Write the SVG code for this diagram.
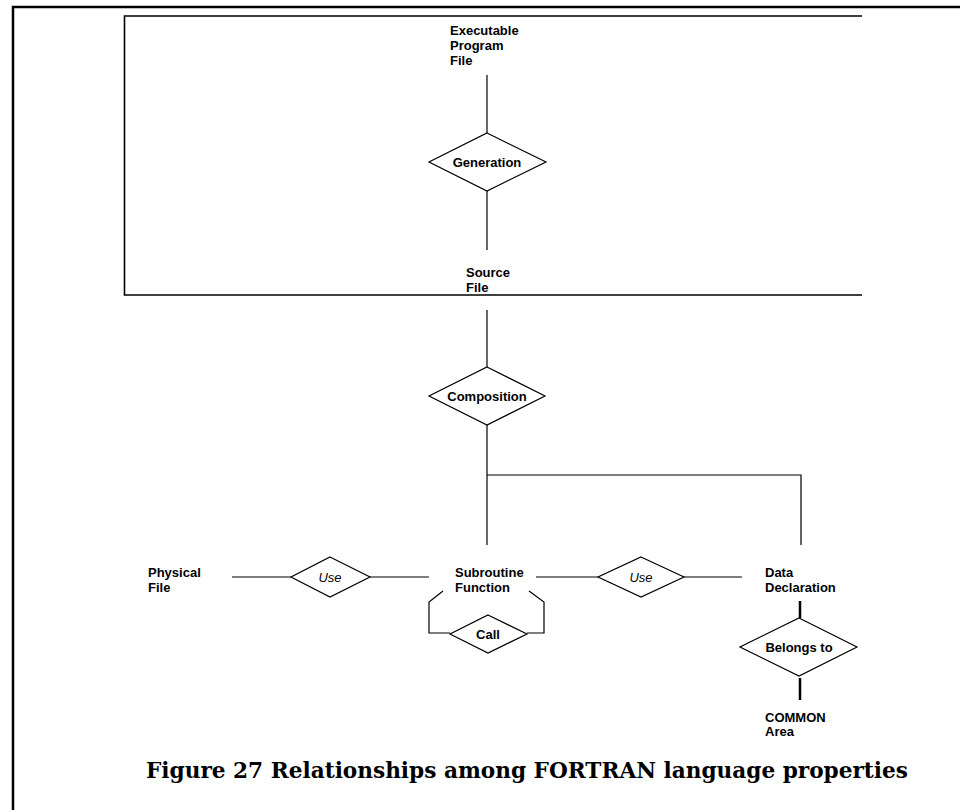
<svg xmlns="http://www.w3.org/2000/svg" width="960" height="810" viewBox="0 0 960 810">
  <style>
    .lbl { font-family: "Liberation Sans", Arial, sans-serif; font-size: 13px; font-weight: bold; fill: #000; }
    .rel { font-family: "Liberation Sans", Arial, sans-serif; font-size: 13px; font-weight: bold; fill: #000; text-anchor: middle; }
    .use { font-family: "Liberation Sans", Arial, sans-serif; font-size: 13px; font-style: italic; fill: #000; text-anchor: middle; }
    .dia { fill: #fff; stroke: #000; stroke-width: 1.2; }
    .ln { fill: none; stroke: #000; stroke-width: 1.2; }
    .thick { fill: none; stroke: #000; stroke-width: 2.5; }
    .frame { fill: none; stroke: #000; stroke-width: 2.5; }
    .box { fill: none; stroke: #000; stroke-width: 1.6; }
    .cap { font-family: "DejaVu Serif", "Liberation Serif", serif; font-size: 23px; font-weight: bold; fill: #000; }
  </style>
  <rect width="960" height="810" fill="#fff"/>

  <!-- page frame (top and left edges) -->
  <path class="frame" d="M13,810 V7 H960"/>

  <!-- program boundary box, open on the right -->
  <path class="box" d="M862,16 H124.5 V295 H862"/>

  <!-- connectors -->
  <g id="connectors">
    <line class="ln" x1="487" y1="75" x2="487" y2="133"/>
    <line class="ln" x1="487" y1="191" x2="487" y2="250"/>
    <line class="ln" x1="487" y1="310" x2="487" y2="367"/>
    <line class="ln" x1="487" y1="425" x2="487" y2="545"/>
    <path class="ln" d="M487,475 H801 V545"/>
    <line class="ln" x1="232" y1="577" x2="291" y2="577"/>
    <line class="ln" x1="370" y1="577" x2="429" y2="577"/>
    <line class="ln" x1="536" y1="577" x2="598" y2="577"/>
    <line class="ln" x1="684" y1="577" x2="742" y2="577"/>
    <path class="ln" d="M443,591 L429,602 V633 H450"/>
    <path class="ln" d="M527,633 H544 V602 L529,591"/>
    <line class="thick" x1="800" y1="601" x2="800" y2="618"/>
    <line class="thick" x1="800" y1="678" x2="800" y2="700"/>
  </g>

  <!-- entities -->
  <g id="executable-program-file">
    <text class="lbl" x="450" y="35">Executable</text>
    <text class="lbl" x="450" y="50">Program</text>
    <text class="lbl" x="450" y="65">File</text>
  </g>
  <g id="source-file">
    <text class="lbl" x="466" y="277">Source</text>
    <text class="lbl" x="466" y="292">File</text>
  </g>
  <g id="physical-file">
    <text class="lbl" x="148" y="577">Physical</text>
    <text class="lbl" x="148" y="592">File</text>
  </g>
  <g id="subroutine-function">
    <text class="lbl" x="455" y="577">Subroutine</text>
    <text class="lbl" x="455" y="592">Function</text>
  </g>
  <g id="data-declaration">
    <text class="lbl" x="765" y="577">Data</text>
    <text class="lbl" x="765" y="592">Declaration</text>
  </g>
  <g id="common-area">
    <text class="lbl" x="765" y="722">COMMON</text>
    <text class="lbl" x="765" y="736">Area</text>
  </g>

  <!-- relationships -->
  <g id="generation">
    <polygon class="dia" points="487,133 546,162 487,191 429,162"/>
    <text class="rel" x="487" y="167">Generation</text>
  </g>
  <g id="composition">
    <polygon class="dia" points="487,367 545,396 487,425 429,396"/>
    <text class="rel" x="487" y="401">Composition</text>
  </g>
  <g id="use-physical">
    <polygon class="dia" points="330,557 370,577 330,597 291,577"/>
    <text class="use" x="330" y="582">Use</text>
  </g>
  <g id="use-data">
    <polygon class="dia" points="641,557 684,577 641,597 598,577"/>
    <text class="use" x="641" y="582">Use</text>
  </g>
  <g id="call">
    <polygon class="dia" points="488,615 527,634 488,653 450,634"/>
    <text class="rel" x="488" y="639">Call</text>
  </g>
  <g id="belongs-to">
    <polygon class="dia" points="799,618 857,647 799,676 740,647"/>
    <text class="rel" x="799" y="652">Belongs to</text>
  </g>

  <text class="cap" x="146" y="778" textLength="762" lengthAdjust="spacingAndGlyphs">Figure 27 Relationships among FORTRAN language properties</text>
</svg>
